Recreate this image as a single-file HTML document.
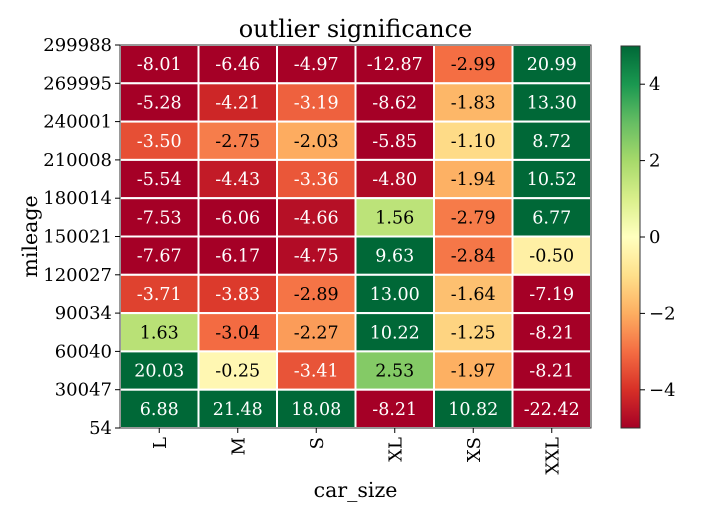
<!DOCTYPE html>
<html><head><meta charset="utf-8"><style>
body{margin:0;background:#fff;}
svg text{font-family:"DejaVu Serif","Liberation Serif",serif;}
</style></head><body>
<svg id="c" width="728" height="520" xmlns="http://www.w3.org/2000/svg"></svg>
<script>
const categories=["L","M","S","XL","XS","XXL"];
const yTickLabels=["299988","269995","240001","210008","180014","150021","120027","90034","60040","30047","54"];
const values=[
[-8.01,-6.46,-4.97,-12.87,-2.99,20.99],
[-5.28,-4.21,-3.19,-8.62,-1.83,13.30],
[-3.50,-2.75,-2.03,-5.85,-1.10,8.72],
[-5.54,-4.43,-3.36,-4.80,-1.94,10.52],
[-7.53,-6.06,-4.66,1.56,-2.79,6.77],
[-7.67,-6.17,-4.75,9.63,-2.84,-0.50],
[-3.71,-3.83,-2.89,13.00,-1.64,-7.19],
[1.63,-3.04,-2.27,10.22,-1.25,-8.21],
[20.03,-0.25,-3.41,2.53,-1.97,-8.21],
[6.88,21.48,18.08,-8.21,10.82,-22.42]];
const cbTicks=[4,2,0,-2,-4];
const vmin=-5,vmax=5;
const stops=["#a50026","#d73027","#f46d43","#fdae61","#fee08b","#ffffbf","#d9ef8b","#a6d96a","#66bd63","#1a9850","#006837"].map(h=>[1,3,5].map(i=>parseInt(h.substr(i,2),16)));
function cmap(v){let t=(Math.min(vmax,Math.max(vmin,v))-vmin)/(vmax-vmin)*10;let i=Math.min(9,Math.floor(t)),f=t-i;const a=stops[i],b=stops[i+1];return `rgb(${a.map((x,k)=>Math.round(x+(b[k]-x)*f)).join(',')})`;}
const L=120,R=591,T=45,B=428;
const cw=(R-L)/categories.length, rh=(B-T)/values.length;
const X=i=>L+i*cw, Y=j=>T+j*rh;
const svg=document.getElementById('c');const NS="http://www.w3.org/2000/svg";
function mk(tag,attrs,txt){const e=document.createElementNS(NS,tag);for(const k in attrs)e.setAttribute(k,attrs[k]);if(txt!==undefined)e.textContent=txt;svg.appendChild(e);return e;}
values.forEach((row,j)=>row.forEach((v,i)=>{
 const r=mk('rect',{x:X(i),y:Y(j),width:cw,height:rh,fill:cmap(v),stroke:'#fff','stroke-width':2});
 
 
 const t=mk('text',{x:X(i)+cw/2,y:Y(j)+rh/2+6,'text-anchor':'middle','font-size':17.5,fill:Math.abs(v)>3.1?'#fff':'#000'},v.toFixed(2));
 
 
}));
const frame=mk('rect',{x:L,y:T,width:R-L,height:B-T,fill:'none',stroke:'#333','stroke-width':1});


yTickLabels.forEach((s,j)=>{const y=T+j*(B-T)/(yTickLabels.length-1);
 mk('line',{x1:L-5,x2:L,y1:y,y2:y,stroke:'#000'});
 const t=mk('text',{x:L-8,y:y+6,'text-anchor':'end','font-size':18},s);
 
 });
categories.forEach((c,i)=>{const x=X(i)+cw/2;
 mk('line',{x1:x,x2:x,y1:B,y2:B+5,stroke:'#000'});
 const t=mk('text',{x:x+6.5,y:B+9,'text-anchor':'end','font-size':18,transform:`rotate(-90 ${x+6.5} ${B+9})`},c);
 
 });
const ti=mk('text',{x:(L+R)/2,y:37,'text-anchor':'middle','font-size':24},'outlier significance');


const xt=mk('text',{x:(L+R)/2,y:497,'text-anchor':'middle','font-size':20.5},'car_size');


const yt=mk('text',{x:37,y:(T+B)/2,'text-anchor':'middle','font-size':20.5,transform:`rotate(-90 37 ${(T+B)/2})`},'mileage');


const CL=621,CR=640,CT=46,CB=428;
const defs=mk('defs',{});const g=document.createElementNS(NS,'linearGradient');g.setAttribute('id','cg');g.setAttribute('x1',0);g.setAttribute('y1',1);g.setAttribute('x2',0);g.setAttribute('y2',0);defs.appendChild(g);
for(let k=0;k<=20;k++){const s=document.createElementNS(NS,'stop');s.setAttribute('offset',k/20);s.setAttribute('stop-color',cmap(vmin+(vmax-vmin)*k/20));g.appendChild(s);}
const cb=mk('rect',{x:CL,y:CT,width:CR-CL,height:CB-CT,fill:'url(#cg)',stroke:'#333','stroke-width':1});


const cy=v=>CB-(v-vmin)/(vmax-vmin)*(CB-CT);
cbTicks.forEach(v=>{const y=cy(v);mk('line',{x1:CR,x2:CR+5,y1:y,y2:y,stroke:'#000'});
 const t=mk('text',{x:CR+9,y:y+6,'font-size':18},v<0?'\u2212'+(-v):String(v));
 
 });
</script>
</body></html>
